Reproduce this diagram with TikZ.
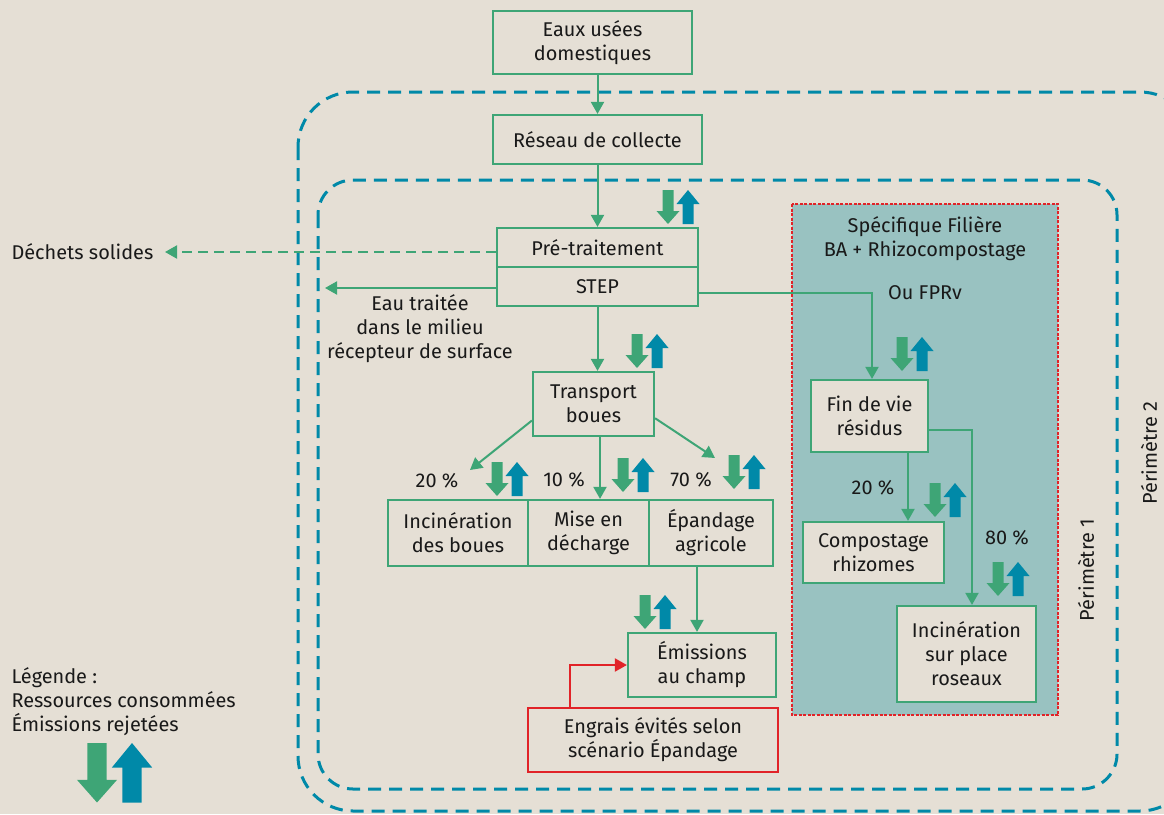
\documentclass[tikz,border=0pt]{standalone}
\usepackage{fontspec}
\setmainfont{Fira Sans}
\usetikzlibrary{arrows.meta}
\definecolor{bg}{RGB}{229,223,213}
\definecolor{grn}{RGB}{62,165,118}
\definecolor{blu}{RGB}{0,137,168}
\definecolor{rd}{RGB}{225,35,40}
\definecolor{tealfill}{RGB}{153,194,193}
\definecolor{ink}{RGB}{25,25,25}
\begin{document}
\begin{tikzpicture}[x=1pt,y=-1pt,
  every node/.style={font=\fontsize{19.9}{24}\selectfont, text=ink},
  box/.style={draw=grn, line width=2.2pt, fill=bg, align=center, inner sep=0pt},
  redbox/.style={box, draw=rd},
  arr/.style={draw=grn, line width=2pt, -{Triangle[width=13pt,length=12pt]}},
  redarr/.style={draw=rd, line width=2pt, -{Triangle[width=13pt,length=12pt]}},
  perim/.style={draw=blu, line width=3pt, dash pattern=on 13pt off 8pt},
  lbl/.style={align=center},
  pair/.pic={
    \fill[grn] (-5.5,0) -- (5.5,0) -- (5.5,21) -- (11.5,21) -- (0,34) -- (-11.5,21) -- (-5.5,21) -- cycle;
    \fill[blu] (14.5,34) -- (25.5,34) -- (25.5,14) -- (31.5,14) -- (20,0) -- (8.5,14) -- (14.5,14) -- cycle;
  }
]
\useasboundingbox (0,0) rectangle (1164,814);
\clip (0,0) rectangle (1164,814);
\fill[bg] (0,0) rectangle (1164,814);

% perimeters
\draw[perim, rounded corners=55pt] (298,92) rectangle (1195,811);
\draw[perim, rounded corners=35pt] (318,180) rectangle (1117,789);
\node[rotate=90] (p1) at (1086,570) {Périmètre 1};
\node[rotate=90] (p2) at (1149,453) {Périmètre 2};

% specific zone
\draw[fill=tealfill, draw=rd, line width=2pt, dash pattern=on 3pt off 1.5pt] (792,204) rectangle (1058,715);
\node[lbl] (spec) at (925,239) {Spécifique Filière\\BA + Rhizocompostage};
\node (fprv) at (925,293) {Ou FPRv};

% boxes
\node[box, minimum width=199pt, minimum height=63pt] (eaux) at (592.5,42.5) {Eaux usées\\domestiques};
\node[box, minimum width=209pt, minimum height=49pt] (reseau) at (597.5,139.5) {Réseau de collecte};
\node[box, minimum width=201pt, minimum height=39pt] (pre) at (597.5,247.5) {Pré-traitement};
\node[box, minimum width=201pt, minimum height=39pt] (step) at (597.5,286.5) {STEP};
\node[box, minimum width=121pt, minimum height=64pt] (transport) at (593.5,404) {Transport\\boues};
\node[box, minimum width=140pt, minimum height=66pt] (incin) at (458,533) {Incinération\\des boues};
\node[box, minimum width=121pt, minimum height=66pt] (mise) at (588.5,533) {Mise en\\décharge};
\node[box, minimum width=124pt, minimum height=66pt] (epand) at (711,533) {Épandage\\agricole};
\node[box, minimum width=148pt, minimum height=64pt] (emis) at (702,665) {Émissions\\au champ};
\node[redbox, minimum width=250pt, minimum height=64pt] (engrais) at (653,740) {Engrais évités selon\\scénario Épandage};
\node[box, minimum width=117pt, minimum height=72pt] (fin) at (869.5,416) {Fin de vie\\résidus};
\node[box, minimum width=141pt, minimum height=61pt] (compost) at (873.5,552.5) {Compostage\\rhizomes};
\node[box, minimum width=139pt, minimum height=96pt] (incsp) at (966.5,654) {Incinération\\sur place\\roseaux};

% free labels
\node[anchor=west] (dechets) at (8,252) {Déchets solides};
\node[lbl] (eautr) at (420,329) {Eau traitée\\dans le milieu\\récepteur de surface};
\node (pc20a) at (437,481) {20 \%};
\node (pc10) at (564,480) {10 \%};
\node (pc70) at (691,480) {70 \%};
\node (pc20b) at (873,488) {20 \%};
\node (pc80) at (1007,538) {80 \%};
\node[anchor=west, align=left] (leg) at (8,702) {Légende :\\Ressources consommées\\Émissions rejetées};

% connectors
\coordinate (dtip) at (165,252);
\coordinate (etip) at (325,288);
\coordinate (ltip) at (470,470);
\coordinate (rtip) at (715,458);
\draw[arr] (eaux.south -| reseau.north) -- (reseau.north);
\draw[arr] (reseau.south) -- (pre.north);
\draw[arr, dashed, dash pattern=on 10pt off 6pt] (pre.west |- dtip) -- (dtip);
\draw[arr] (step.west |- etip) -- (etip);
\draw[arr] (step.south) -- (step.south |- transport.north);
\draw[arr] (transport.195) -- (ltip);
\draw[arr] (transport.-13) -- (rtip);
\draw[arr] (transport.south -| 600,0) -- (mise.north -| 600,0);
\draw[arr] (epand.south -| 697,0) -- (emis.north -| 697,0);
\draw[redarr] (engrais.north -| 570,0) |- (emis.west);
\draw[arr] (step.east |- 0,293) -| (fin.north -| 872,0);
\draw[arr] (fin.south -| 908,0) -- (compost.north -| 908,0);
\draw[arr] (fin.east |- 0,430) -| (incsp.north -| 972,0);

% resource / emission pairs
\pic at (668,190) {pair};
\pic at (637,334) {pair};
\pic at (497,462) {pair};
\pic at (623,458) {pair};
\pic at (734,455) {pair};
\pic at (645,595) {pair};
\pic at (902,337) {pair};
\pic at (935,483) {pair};
\pic at (998,562) {pair};
\pic[scale=1.75] at (97,743) {pair};
\end{tikzpicture}
\end{document}
